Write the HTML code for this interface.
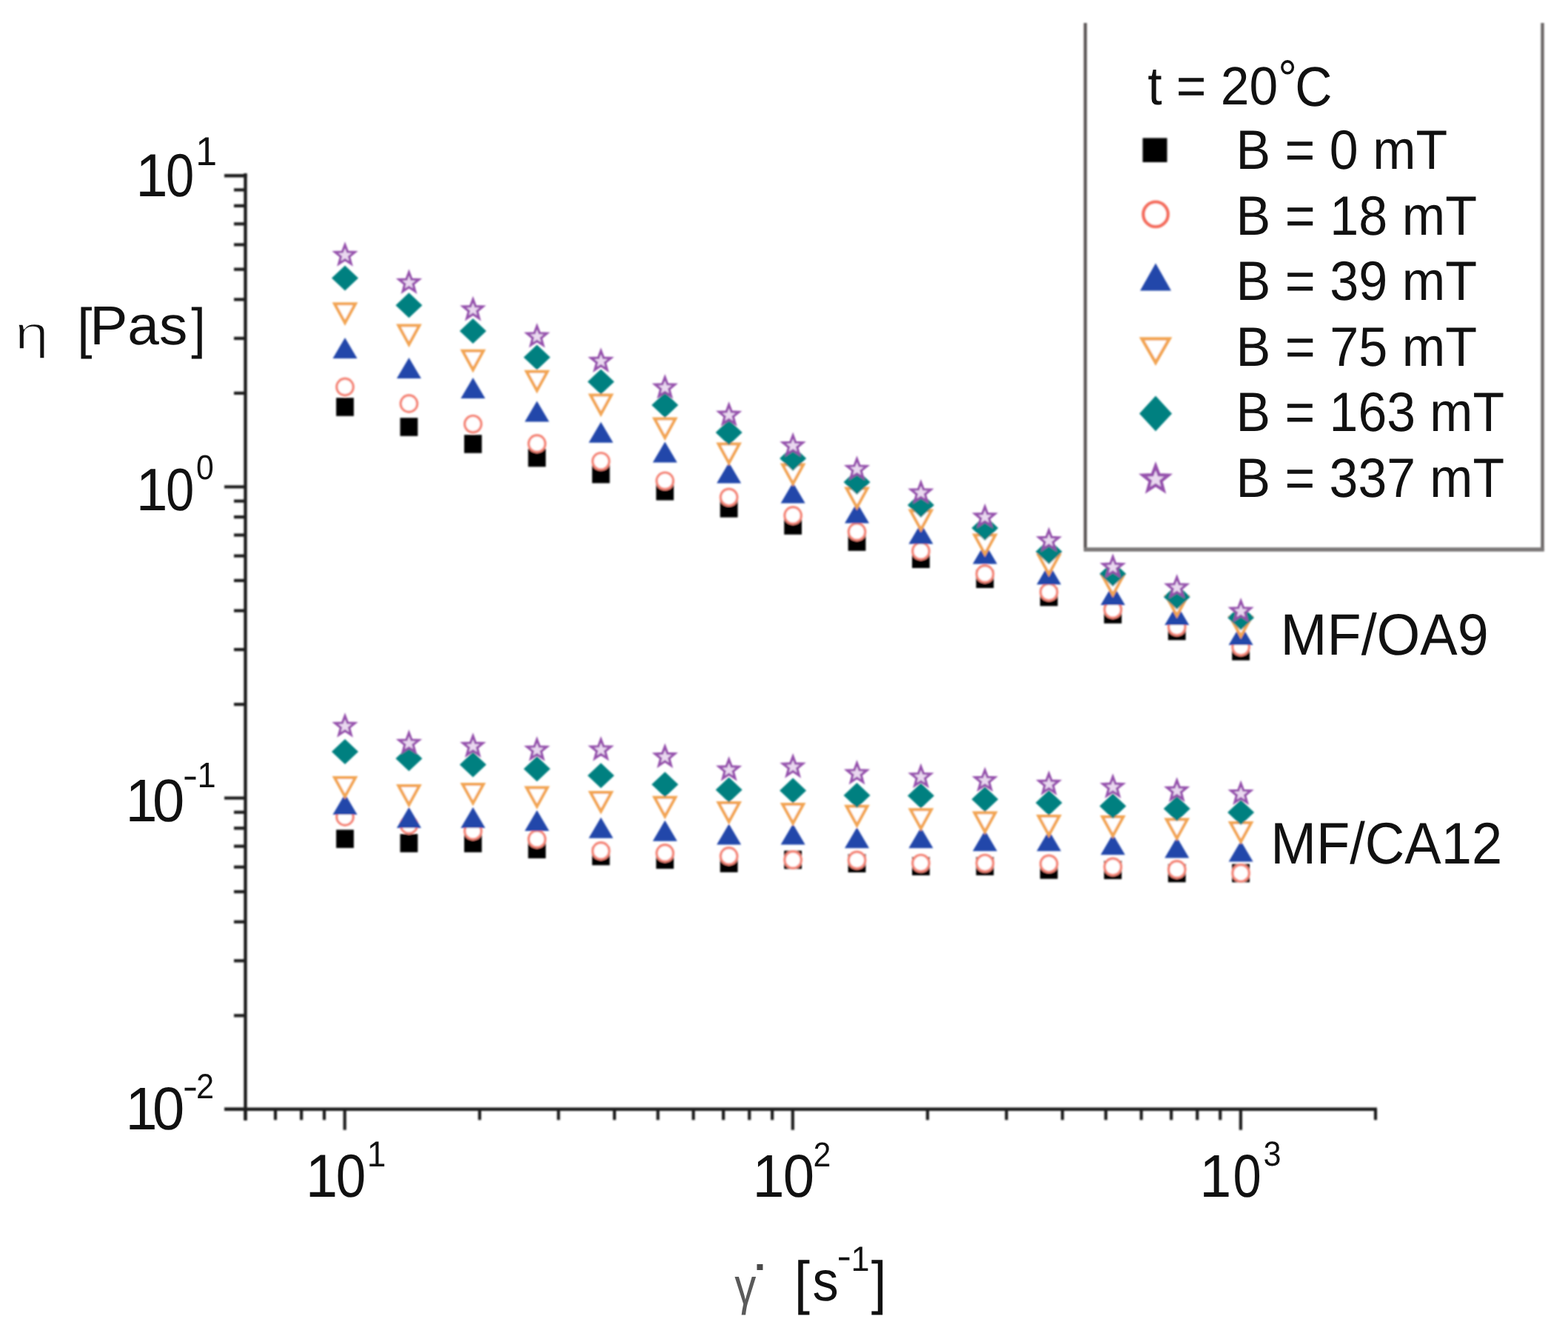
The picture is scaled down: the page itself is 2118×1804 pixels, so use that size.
<!DOCTYPE html>
<html><head><meta charset="utf-8"><title>Viscosity vs shear rate</title>
<style>
html,body{margin:0;padding:0;background:#fff;}
body{width:2118px;height:1804px;overflow:hidden;}
svg{display:block;}
</style></head><body>
<svg width="2118" height="1804" viewBox="0 0 2118 1804" font-family="'Liberation Sans', Arial, sans-serif" fill="#111" style="font-kerning:none;text-rendering:geometricPrecision"><defs><filter id="soft" x="0" y="0" width="2118" height="1804" filterUnits="userSpaceOnUse"><feGaussianBlur stdDeviation="0.8"/></filter></defs><rect width="100%" height="100%" fill="#fff"/><g filter="url(#soft)"><line x1="331.5" y1="234" x2="331.5" y2="1513" stroke="#1e1e1e" stroke-width="4.4"/>
<line x1="303" y1="1497.8" x2="1860.0" y2="1497.8" stroke="#1e1e1e" stroke-width="4.4"/>
<line x1="303" y1="1497.8" x2="331.5" y2="1497.8" stroke="#1e1e1e" stroke-width="4.2"/>
<line x1="316" y1="1371.3" x2="331.5" y2="1371.3" stroke="#1e1e1e" stroke-width="4.2"/>
<line x1="316" y1="1297.3" x2="331.5" y2="1297.3" stroke="#1e1e1e" stroke-width="4.2"/>
<line x1="316" y1="1244.8" x2="331.5" y2="1244.8" stroke="#1e1e1e" stroke-width="4.2"/>
<line x1="316" y1="1204.1" x2="331.5" y2="1204.1" stroke="#1e1e1e" stroke-width="4.2"/>
<line x1="316" y1="1170.8" x2="331.5" y2="1170.8" stroke="#1e1e1e" stroke-width="4.2"/>
<line x1="316" y1="1142.7" x2="331.5" y2="1142.7" stroke="#1e1e1e" stroke-width="4.2"/>
<line x1="316" y1="1118.3" x2="331.5" y2="1118.3" stroke="#1e1e1e" stroke-width="4.2"/>
<line x1="316" y1="1096.8" x2="331.5" y2="1096.8" stroke="#1e1e1e" stroke-width="4.2"/>
<line x1="303" y1="1077.6" x2="331.5" y2="1077.6" stroke="#1e1e1e" stroke-width="4.2"/>
<line x1="316" y1="951.1" x2="331.5" y2="951.1" stroke="#1e1e1e" stroke-width="4.2"/>
<line x1="316" y1="877.1" x2="331.5" y2="877.1" stroke="#1e1e1e" stroke-width="4.2"/>
<line x1="316" y1="824.6" x2="331.5" y2="824.6" stroke="#1e1e1e" stroke-width="4.2"/>
<line x1="316" y1="783.9" x2="331.5" y2="783.9" stroke="#1e1e1e" stroke-width="4.2"/>
<line x1="316" y1="750.6" x2="331.5" y2="750.6" stroke="#1e1e1e" stroke-width="4.2"/>
<line x1="316" y1="722.5" x2="331.5" y2="722.5" stroke="#1e1e1e" stroke-width="4.2"/>
<line x1="316" y1="698.1" x2="331.5" y2="698.1" stroke="#1e1e1e" stroke-width="4.2"/>
<line x1="316" y1="676.6" x2="331.5" y2="676.6" stroke="#1e1e1e" stroke-width="4.2"/>
<line x1="303" y1="657.4" x2="331.5" y2="657.4" stroke="#1e1e1e" stroke-width="4.2"/>
<line x1="316" y1="530.9" x2="331.5" y2="530.9" stroke="#1e1e1e" stroke-width="4.2"/>
<line x1="316" y1="456.9" x2="331.5" y2="456.9" stroke="#1e1e1e" stroke-width="4.2"/>
<line x1="316" y1="404.4" x2="331.5" y2="404.4" stroke="#1e1e1e" stroke-width="4.2"/>
<line x1="316" y1="363.7" x2="331.5" y2="363.7" stroke="#1e1e1e" stroke-width="4.2"/>
<line x1="316" y1="330.4" x2="331.5" y2="330.4" stroke="#1e1e1e" stroke-width="4.2"/>
<line x1="316" y1="302.3" x2="331.5" y2="302.3" stroke="#1e1e1e" stroke-width="4.2"/>
<line x1="316" y1="277.9" x2="331.5" y2="277.9" stroke="#1e1e1e" stroke-width="4.2"/>
<line x1="316" y1="256.4" x2="331.5" y2="256.4" stroke="#1e1e1e" stroke-width="4.2"/>
<line x1="303" y1="237.2" x2="331.5" y2="237.2" stroke="#1e1e1e" stroke-width="4.2"/>
<line x1="303" y1="237.2" x2="333.5" y2="237.2" stroke="#1e1e1e" stroke-width="4.2"/>
<line x1="331.5" y1="1497.8" x2="331.5" y2="1512.3" stroke="#1e1e1e" stroke-width="4.2"/>
<line x1="372.0" y1="1497.8" x2="372.0" y2="1512.3" stroke="#1e1e1e" stroke-width="4.2"/>
<line x1="407.1" y1="1497.8" x2="407.1" y2="1512.3" stroke="#1e1e1e" stroke-width="4.2"/>
<line x1="438.0" y1="1497.8" x2="438.0" y2="1512.3" stroke="#1e1e1e" stroke-width="4.2"/>
<line x1="465.7" y1="1497.8" x2="465.7" y2="1525.8" stroke="#1e1e1e" stroke-width="4.2"/>
<line x1="647.9" y1="1497.8" x2="647.9" y2="1512.3" stroke="#1e1e1e" stroke-width="4.2"/>
<line x1="754.4" y1="1497.8" x2="754.4" y2="1512.3" stroke="#1e1e1e" stroke-width="4.2"/>
<line x1="830.0" y1="1497.8" x2="830.0" y2="1512.3" stroke="#1e1e1e" stroke-width="4.2"/>
<line x1="888.7" y1="1497.8" x2="888.7" y2="1512.3" stroke="#1e1e1e" stroke-width="4.2"/>
<line x1="936.6" y1="1497.8" x2="936.6" y2="1512.3" stroke="#1e1e1e" stroke-width="4.2"/>
<line x1="977.1" y1="1497.8" x2="977.1" y2="1512.3" stroke="#1e1e1e" stroke-width="4.2"/>
<line x1="1012.2" y1="1497.8" x2="1012.2" y2="1512.3" stroke="#1e1e1e" stroke-width="4.2"/>
<line x1="1043.1" y1="1497.8" x2="1043.1" y2="1512.3" stroke="#1e1e1e" stroke-width="4.2"/>
<line x1="1070.8" y1="1497.8" x2="1070.8" y2="1525.8" stroke="#1e1e1e" stroke-width="4.2"/>
<line x1="1252.9" y1="1497.8" x2="1252.9" y2="1512.3" stroke="#1e1e1e" stroke-width="4.2"/>
<line x1="1359.5" y1="1497.8" x2="1359.5" y2="1512.3" stroke="#1e1e1e" stroke-width="4.2"/>
<line x1="1435.1" y1="1497.8" x2="1435.1" y2="1512.3" stroke="#1e1e1e" stroke-width="4.2"/>
<line x1="1493.7" y1="1497.8" x2="1493.7" y2="1512.3" stroke="#1e1e1e" stroke-width="4.2"/>
<line x1="1541.6" y1="1497.8" x2="1541.6" y2="1512.3" stroke="#1e1e1e" stroke-width="4.2"/>
<line x1="1582.1" y1="1497.8" x2="1582.1" y2="1512.3" stroke="#1e1e1e" stroke-width="4.2"/>
<line x1="1617.2" y1="1497.8" x2="1617.2" y2="1512.3" stroke="#1e1e1e" stroke-width="4.2"/>
<line x1="1648.2" y1="1497.8" x2="1648.2" y2="1512.3" stroke="#1e1e1e" stroke-width="4.2"/>
<line x1="1675.9" y1="1497.8" x2="1675.9" y2="1525.8" stroke="#1e1e1e" stroke-width="4.2"/>
<line x1="1858.0" y1="1497.8" x2="1858.0" y2="1512.3" stroke="#1e1e1e" stroke-width="4.2"/>
<line x1="1466" y1="31" x2="1466" y2="744" stroke="#5e5a5a" stroke-width="4.4"/>
<line x1="2083.5" y1="31" x2="2083.5" y2="744" stroke="#6c6868" stroke-width="4.4"/>
<line x1="1464" y1="742" x2="2085.7" y2="742" stroke="#7a7777" stroke-width="5.5"/>
<rect x="454.1" y="537.2" width="23.8" height="24.6" fill="#000000"/>
<rect x="540.5" y="564.2" width="23.8" height="24.6" fill="#000000"/>
<rect x="627.0" y="587.2" width="23.8" height="24.6" fill="#000000"/>
<rect x="713.4" y="605.7" width="23.8" height="24.6" fill="#000000"/>
<rect x="799.8" y="627.8" width="23.8" height="24.6" fill="#000000"/>
<rect x="886.3" y="650.9" width="23.8" height="24.6" fill="#000000"/>
<rect x="972.7" y="674.0" width="23.8" height="24.6" fill="#000000"/>
<rect x="1059.2" y="697.2" width="23.8" height="24.6" fill="#000000"/>
<rect x="1145.6" y="719.2" width="23.8" height="24.6" fill="#000000"/>
<rect x="1232.0" y="742.4" width="23.8" height="24.6" fill="#000000"/>
<rect x="1318.5" y="769.4" width="23.8" height="24.6" fill="#000000"/>
<rect x="1404.9" y="793.7" width="23.8" height="24.6" fill="#000000"/>
<rect x="1491.3" y="817.2" width="23.8" height="24.6" fill="#000000"/>
<rect x="1577.8" y="839.7" width="23.8" height="24.6" fill="#000000"/>
<rect x="1664.2" y="867.0" width="23.8" height="24.6" fill="#000000"/>
<circle cx="466.0" cy="522.5" r="11.2" fill="#fff" stroke="#f5887a" stroke-width="3.4"/>
<circle cx="552.4" cy="545.0" r="11.2" fill="#fff" stroke="#f5887a" stroke-width="3.4"/>
<circle cx="638.9" cy="572.6" r="11.2" fill="#fff" stroke="#f5887a" stroke-width="3.4"/>
<circle cx="725.3" cy="599.0" r="11.2" fill="#fff" stroke="#f5887a" stroke-width="3.4"/>
<circle cx="811.7" cy="622.8" r="11.2" fill="#fff" stroke="#f5887a" stroke-width="3.4"/>
<circle cx="898.2" cy="649.3" r="11.2" fill="#fff" stroke="#f5887a" stroke-width="3.4"/>
<circle cx="984.6" cy="671.4" r="11.2" fill="#fff" stroke="#f5887a" stroke-width="3.4"/>
<circle cx="1071.1" cy="696.0" r="11.2" fill="#fff" stroke="#f5887a" stroke-width="3.4"/>
<circle cx="1157.5" cy="718.0" r="11.2" fill="#fff" stroke="#f5887a" stroke-width="3.4"/>
<circle cx="1243.9" cy="744.0" r="11.2" fill="#fff" stroke="#f5887a" stroke-width="3.4"/>
<circle cx="1330.4" cy="775.0" r="11.2" fill="#fff" stroke="#f5887a" stroke-width="3.4"/>
<circle cx="1416.8" cy="799.5" r="11.2" fill="#fff" stroke="#f5887a" stroke-width="3.4"/>
<circle cx="1503.2" cy="823.0" r="11.2" fill="#fff" stroke="#f5887a" stroke-width="3.4"/>
<circle cx="1589.7" cy="846.5" r="11.2" fill="#fff" stroke="#f5887a" stroke-width="3.4"/>
<circle cx="1676.1" cy="873.5" r="11.2" fill="#fff" stroke="#f5887a" stroke-width="3.4"/>
<polygon points="466.0,456.0 482.5,484.0 449.5,484.0" fill="#2346aa"/>
<polygon points="552.4,483.0 568.9,511.0 535.9,511.0" fill="#2346aa"/>
<polygon points="638.9,510.0 655.4,538.0 622.4,538.0" fill="#2346aa"/>
<polygon points="725.3,541.6 741.8,569.6 708.8,569.6" fill="#2346aa"/>
<polygon points="811.7,569.7 828.2,597.7 795.2,597.7" fill="#2346aa"/>
<polygon points="898.2,596.6 914.7,624.6 881.7,624.6" fill="#2346aa"/>
<polygon points="984.6,624.6 1001.1,652.6 968.1,652.6" fill="#2346aa"/>
<polygon points="1071.1,651.5 1087.6,679.5 1054.6,679.5" fill="#2346aa"/>
<polygon points="1157.5,678.5 1174.0,706.5 1141.0,706.5" fill="#2346aa"/>
<polygon points="1243.9,706.4 1260.4,734.4 1227.4,734.4" fill="#2346aa"/>
<polygon points="1330.4,733.4 1346.9,761.4 1313.9,761.4" fill="#2346aa"/>
<polygon points="1416.8,761.3 1433.3,789.3 1400.3,789.3" fill="#2346aa"/>
<polygon points="1503.2,789.1 1519.7,817.1 1486.7,817.1" fill="#2346aa"/>
<polygon points="1589.7,816.1 1606.2,844.1 1573.2,844.1" fill="#2346aa"/>
<polygon points="1676.1,843.1 1692.6,871.1 1659.6,871.1" fill="#2346aa"/>
<polygon points="452.0,410.3 480.0,410.3 466.0,435.8" fill="#fff" stroke="#f2a452" stroke-width="4.0" stroke-linejoin="miter"/>
<polygon points="538.4,439.5 566.4,439.5 552.4,465.0" fill="#fff" stroke="#f2a452" stroke-width="4.0" stroke-linejoin="miter"/>
<polygon points="624.9,473.8 652.9,473.8 638.9,499.3" fill="#fff" stroke="#f2a452" stroke-width="4.0" stroke-linejoin="miter"/>
<polygon points="711.3,501.8 739.3,501.8 725.3,527.3" fill="#fff" stroke="#f2a452" stroke-width="4.0" stroke-linejoin="miter"/>
<polygon points="797.7,533.5 825.7,533.5 811.7,559.0" fill="#fff" stroke="#f2a452" stroke-width="4.0" stroke-linejoin="miter"/>
<polygon points="884.2,565.5 912.2,565.5 898.2,591.0" fill="#fff" stroke="#f2a452" stroke-width="4.0" stroke-linejoin="miter"/>
<polygon points="970.6,599.5 998.6,599.5 984.6,625.0" fill="#fff" stroke="#f2a452" stroke-width="4.0" stroke-linejoin="miter"/>
<polygon points="1057.1,627.5 1085.1,627.5 1071.1,653.0" fill="#fff" stroke="#f2a452" stroke-width="4.0" stroke-linejoin="miter"/>
<polygon points="1143.5,659.5 1171.5,659.5 1157.5,685.0" fill="#fff" stroke="#f2a452" stroke-width="4.0" stroke-linejoin="miter"/>
<polygon points="1229.9,689.5 1257.9,689.5 1243.9,715.0" fill="#fff" stroke="#f2a452" stroke-width="4.0" stroke-linejoin="miter"/>
<polygon points="1316.4,722.5 1344.4,722.5 1330.4,748.0" fill="#fff" stroke="#f2a452" stroke-width="4.0" stroke-linejoin="miter"/>
<polygon points="1402.8,749.5 1430.8,749.5 1416.8,775.0" fill="#fff" stroke="#f2a452" stroke-width="4.0" stroke-linejoin="miter"/>
<polygon points="1489.2,777.5 1517.2,777.5 1503.2,803.0" fill="#fff" stroke="#f2a452" stroke-width="4.0" stroke-linejoin="miter"/>
<polygon points="1575.7,805.5 1603.7,805.5 1589.7,831.0" fill="#fff" stroke="#f2a452" stroke-width="4.0" stroke-linejoin="miter"/>
<polygon points="1662.1,833.5 1690.1,833.5 1676.1,859.0" fill="#fff" stroke="#f2a452" stroke-width="4.0" stroke-linejoin="miter"/>
<polygon points="466.0,358.6 484.0,375.6 466.0,392.6 448.0,375.6" fill="#008080"/>
<polygon points="552.4,395.2 570.4,412.2 552.4,429.2 534.4,412.2" fill="#008080"/>
<polygon points="638.9,430.0 656.9,447.0 638.9,464.0 620.9,447.0" fill="#008080"/>
<polygon points="725.3,465.5 743.3,482.5 725.3,499.5 707.3,482.5" fill="#008080"/>
<polygon points="811.7,498.4 829.7,515.4 811.7,532.4 793.7,515.4" fill="#008080"/>
<polygon points="898.2,530.0 916.2,547.0 898.2,564.0 880.2,547.0" fill="#008080"/>
<polygon points="984.6,567.0 1002.6,584.0 984.6,601.0 966.6,584.0" fill="#008080"/>
<polygon points="1071.1,602.0 1089.1,619.0 1071.1,636.0 1053.1,619.0" fill="#008080"/>
<polygon points="1157.5,634.0 1175.5,651.0 1157.5,668.0 1139.5,651.0" fill="#008080"/>
<polygon points="1243.9,665.0 1261.9,682.0 1243.9,699.0 1225.9,682.0" fill="#008080"/>
<polygon points="1330.4,696.0 1348.4,713.0 1330.4,730.0 1312.4,713.0" fill="#008080"/>
<polygon points="1416.8,728.0 1434.8,745.0 1416.8,762.0 1398.8,745.0" fill="#008080"/>
<polygon points="1503.2,758.0 1521.2,775.0 1503.2,792.0 1485.2,775.0" fill="#008080"/>
<polygon points="1589.7,789.0 1607.7,806.0 1589.7,823.0 1571.7,806.0" fill="#008080"/>
<polygon points="1676.1,817.0 1694.1,834.0 1676.1,851.0 1658.1,834.0" fill="#008080"/>
<polygon points="466.0,330.7 469.5,340.0 479.3,340.4 471.6,346.6 474.2,356.1 466.0,350.6 457.8,356.1 460.4,346.6 452.7,340.4 462.5,340.0" fill="#ead9f0" stroke="#9450ac" stroke-width="3.2" stroke-linejoin="miter"/>
<polygon points="552.4,367.8 555.9,377.1 565.8,377.5 558.0,383.7 560.7,393.2 552.4,387.7 544.2,393.2 546.8,383.7 539.1,377.5 549.0,377.1" fill="#ead9f0" stroke="#9450ac" stroke-width="3.2" stroke-linejoin="miter"/>
<polygon points="638.9,404.3 642.3,413.6 652.2,414.0 644.5,420.2 647.1,429.7 638.9,424.2 630.6,429.7 633.3,420.2 625.6,414.0 635.4,413.6" fill="#ead9f0" stroke="#9450ac" stroke-width="3.2" stroke-linejoin="miter"/>
<polygon points="725.3,440.5 728.8,449.8 738.6,450.2 730.9,456.4 733.5,465.9 725.3,460.4 717.1,465.9 719.7,456.4 712.0,450.2 721.9,449.8" fill="#ead9f0" stroke="#9450ac" stroke-width="3.2" stroke-linejoin="miter"/>
<polygon points="811.7,473.8 815.2,483.1 825.1,483.5 817.3,489.7 820.0,499.2 811.7,493.7 803.5,499.2 806.2,489.7 798.4,483.5 808.3,483.1" fill="#ead9f0" stroke="#9450ac" stroke-width="3.2" stroke-linejoin="miter"/>
<polygon points="898.2,509.5 901.6,518.8 911.5,519.2 903.8,525.4 906.4,534.9 898.2,529.4 890.0,534.9 892.6,525.4 884.9,519.2 894.7,518.8" fill="#ead9f0" stroke="#9450ac" stroke-width="3.2" stroke-linejoin="miter"/>
<polygon points="984.6,546.6 988.1,555.9 997.9,556.3 990.2,562.5 992.9,572.0 984.6,566.5 976.4,572.0 979.0,562.5 971.3,556.3 981.2,555.9" fill="#ead9f0" stroke="#9450ac" stroke-width="3.2" stroke-linejoin="miter"/>
<polygon points="1071.1,588.0 1074.5,597.3 1084.4,597.7 1076.7,603.9 1079.3,613.4 1071.1,607.9 1062.8,613.4 1065.5,603.9 1057.7,597.7 1067.6,597.3" fill="#ead9f0" stroke="#9450ac" stroke-width="3.2" stroke-linejoin="miter"/>
<polygon points="1157.5,619.7 1161.0,629.0 1170.8,629.4 1163.1,635.6 1165.7,645.1 1157.5,639.6 1149.3,645.1 1151.9,635.6 1144.2,629.4 1154.0,629.0" fill="#ead9f0" stroke="#9450ac" stroke-width="3.2" stroke-linejoin="miter"/>
<polygon points="1243.9,651.5 1247.4,660.8 1257.2,661.2 1249.5,667.4 1252.2,676.9 1243.9,671.4 1235.7,676.9 1238.3,667.4 1230.6,661.2 1240.5,660.8" fill="#ead9f0" stroke="#9450ac" stroke-width="3.2" stroke-linejoin="miter"/>
<polygon points="1330.4,684.3 1333.8,693.6 1343.7,694.0 1336.0,700.2 1338.6,709.7 1330.4,704.2 1322.1,709.7 1324.8,700.2 1317.1,694.0 1326.9,693.6" fill="#ead9f0" stroke="#9450ac" stroke-width="3.2" stroke-linejoin="miter"/>
<polygon points="1416.8,716.1 1420.3,725.4 1430.1,725.8 1422.4,732.0 1425.0,741.5 1416.8,736.0 1408.6,741.5 1411.2,732.0 1403.5,725.8 1413.4,725.4" fill="#ead9f0" stroke="#9450ac" stroke-width="3.2" stroke-linejoin="miter"/>
<polygon points="1503.2,751.9 1506.7,761.2 1516.6,761.6 1508.8,767.8 1511.5,777.3 1503.2,771.8 1495.0,777.3 1497.7,767.8 1489.9,761.6 1499.8,761.2" fill="#ead9f0" stroke="#9450ac" stroke-width="3.2" stroke-linejoin="miter"/>
<polygon points="1589.7,779.5 1593.1,788.8 1603.0,789.2 1595.3,795.4 1597.9,804.9 1589.7,799.4 1581.5,804.9 1584.1,795.4 1576.4,789.2 1586.2,788.8" fill="#ead9f0" stroke="#9450ac" stroke-width="3.2" stroke-linejoin="miter"/>
<polygon points="1676.1,811.5 1679.6,820.8 1689.4,821.2 1681.7,827.4 1684.3,836.9 1676.1,831.4 1667.9,836.9 1670.5,827.4 1662.8,821.2 1672.7,820.8" fill="#ead9f0" stroke="#9450ac" stroke-width="3.2" stroke-linejoin="miter"/>
<rect x="454.1" y="1120.4" width="23.8" height="24.6" fill="#000000"/>
<rect x="540.5" y="1126.2" width="23.8" height="24.6" fill="#000000"/>
<rect x="627.0" y="1126.2" width="23.8" height="24.6" fill="#000000"/>
<rect x="713.4" y="1134.4" width="23.8" height="24.6" fill="#000000"/>
<rect x="799.8" y="1143.7" width="23.8" height="24.6" fill="#000000"/>
<rect x="886.3" y="1148.5" width="23.8" height="24.6" fill="#000000"/>
<rect x="972.7" y="1153.2" width="23.8" height="24.6" fill="#000000"/>
<rect x="1059.2" y="1148.7" width="23.8" height="24.6" fill="#000000"/>
<rect x="1145.6" y="1153.4" width="23.8" height="24.6" fill="#000000"/>
<rect x="1232.0" y="1157.3" width="23.8" height="24.6" fill="#000000"/>
<rect x="1318.5" y="1157.3" width="23.8" height="24.6" fill="#000000"/>
<rect x="1404.9" y="1162.1" width="23.8" height="24.6" fill="#000000"/>
<rect x="1491.3" y="1162.5" width="23.8" height="24.6" fill="#000000"/>
<rect x="1577.8" y="1166.7" width="23.8" height="24.6" fill="#000000"/>
<rect x="1664.2" y="1166.7" width="23.8" height="24.6" fill="#000000"/>
<circle cx="466.0" cy="1103.0" r="11.2" fill="#fff" stroke="#f5887a" stroke-width="3.4"/>
<circle cx="552.4" cy="1114.0" r="11.2" fill="#fff" stroke="#f5887a" stroke-width="3.4"/>
<circle cx="638.9" cy="1122.0" r="11.2" fill="#fff" stroke="#f5887a" stroke-width="3.4"/>
<circle cx="725.3" cy="1133.0" r="11.2" fill="#fff" stroke="#f5887a" stroke-width="3.4"/>
<circle cx="811.7" cy="1149.0" r="11.2" fill="#fff" stroke="#f5887a" stroke-width="3.4"/>
<circle cx="898.2" cy="1152.0" r="11.2" fill="#fff" stroke="#f5887a" stroke-width="3.4"/>
<circle cx="984.6" cy="1156.0" r="11.2" fill="#fff" stroke="#f5887a" stroke-width="3.4"/>
<circle cx="1071.1" cy="1161.0" r="11.2" fill="#fff" stroke="#f5887a" stroke-width="3.4"/>
<circle cx="1157.5" cy="1161.5" r="11.2" fill="#fff" stroke="#f5887a" stroke-width="3.4"/>
<circle cx="1243.9" cy="1165.6" r="11.2" fill="#fff" stroke="#f5887a" stroke-width="3.4"/>
<circle cx="1330.4" cy="1165.6" r="11.2" fill="#fff" stroke="#f5887a" stroke-width="3.4"/>
<circle cx="1416.8" cy="1166.4" r="11.2" fill="#fff" stroke="#f5887a" stroke-width="3.4"/>
<circle cx="1503.2" cy="1170.5" r="11.2" fill="#fff" stroke="#f5887a" stroke-width="3.4"/>
<circle cx="1589.7" cy="1174.0" r="11.2" fill="#fff" stroke="#f5887a" stroke-width="3.4"/>
<circle cx="1676.1" cy="1178.9" r="11.2" fill="#fff" stroke="#f5887a" stroke-width="3.4"/>
<polygon points="466.0,1071.9 482.5,1099.9 449.5,1099.9" fill="#2346aa"/>
<polygon points="552.4,1090.0 568.9,1118.0 535.9,1118.0" fill="#2346aa"/>
<polygon points="638.9,1090.0 655.4,1118.0 622.4,1118.0" fill="#2346aa"/>
<polygon points="725.3,1094.1 741.8,1122.1 708.8,1122.1" fill="#2346aa"/>
<polygon points="811.7,1103.7 828.2,1131.7 795.2,1131.7" fill="#2346aa"/>
<polygon points="898.2,1107.7 914.7,1135.7 881.7,1135.7" fill="#2346aa"/>
<polygon points="984.6,1112.4 1001.1,1140.4 968.1,1140.4" fill="#2346aa"/>
<polygon points="1071.1,1112.4 1087.6,1140.4 1054.6,1140.4" fill="#2346aa"/>
<polygon points="1157.5,1117.3 1174.0,1145.3 1141.0,1145.3" fill="#2346aa"/>
<polygon points="1243.9,1117.3 1260.4,1145.3 1227.4,1145.3" fill="#2346aa"/>
<polygon points="1330.4,1121.3 1346.9,1149.3 1313.9,1149.3" fill="#2346aa"/>
<polygon points="1416.8,1121.3 1433.3,1149.3 1400.3,1149.3" fill="#2346aa"/>
<polygon points="1503.2,1126.3 1519.7,1154.3 1486.7,1154.3" fill="#2346aa"/>
<polygon points="1589.7,1130.6 1606.2,1158.6 1573.2,1158.6" fill="#2346aa"/>
<polygon points="1676.1,1135.4 1692.6,1163.4 1659.6,1163.4" fill="#2346aa"/>
<polygon points="452.0,1049.9 480.0,1049.9 466.0,1075.4" fill="#fff" stroke="#f2a452" stroke-width="4.0" stroke-linejoin="miter"/>
<polygon points="538.4,1061.0 566.4,1061.0 552.4,1086.5" fill="#fff" stroke="#f2a452" stroke-width="4.0" stroke-linejoin="miter"/>
<polygon points="624.9,1058.9 652.9,1058.9 638.9,1084.4" fill="#fff" stroke="#f2a452" stroke-width="4.0" stroke-linejoin="miter"/>
<polygon points="711.3,1063.4 739.3,1063.4 725.3,1088.9" fill="#fff" stroke="#f2a452" stroke-width="4.0" stroke-linejoin="miter"/>
<polygon points="797.7,1070.0 825.7,1070.0 811.7,1095.5" fill="#fff" stroke="#f2a452" stroke-width="4.0" stroke-linejoin="miter"/>
<polygon points="884.2,1076.8 912.2,1076.8 898.2,1102.3" fill="#fff" stroke="#f2a452" stroke-width="4.0" stroke-linejoin="miter"/>
<polygon points="970.6,1084.0 998.6,1084.0 984.6,1109.5" fill="#fff" stroke="#f2a452" stroke-width="4.0" stroke-linejoin="miter"/>
<polygon points="1057.1,1086.0 1085.1,1086.0 1071.1,1111.5" fill="#fff" stroke="#f2a452" stroke-width="4.0" stroke-linejoin="miter"/>
<polygon points="1143.5,1088.8 1171.5,1088.8 1157.5,1114.3" fill="#fff" stroke="#f2a452" stroke-width="4.0" stroke-linejoin="miter"/>
<polygon points="1229.9,1093.2 1257.9,1093.2 1243.9,1118.7" fill="#fff" stroke="#f2a452" stroke-width="4.0" stroke-linejoin="miter"/>
<polygon points="1316.4,1097.5 1344.4,1097.5 1330.4,1123.0" fill="#fff" stroke="#f2a452" stroke-width="4.0" stroke-linejoin="miter"/>
<polygon points="1402.8,1102.0 1430.8,1102.0 1416.8,1127.5" fill="#fff" stroke="#f2a452" stroke-width="4.0" stroke-linejoin="miter"/>
<polygon points="1489.2,1103.0 1517.2,1103.0 1503.2,1128.5" fill="#fff" stroke="#f2a452" stroke-width="4.0" stroke-linejoin="miter"/>
<polygon points="1575.7,1106.4 1603.7,1106.4 1589.7,1131.9" fill="#fff" stroke="#f2a452" stroke-width="4.0" stroke-linejoin="miter"/>
<polygon points="1662.1,1110.9 1690.1,1110.9 1676.1,1136.4" fill="#fff" stroke="#f2a452" stroke-width="4.0" stroke-linejoin="miter"/>
<polygon points="466.0,998.0 484.0,1015.0 466.0,1032.0 448.0,1015.0" fill="#008080"/>
<polygon points="552.4,1007.2 570.4,1024.2 552.4,1041.2 534.4,1024.2" fill="#008080"/>
<polygon points="638.9,1015.5 656.9,1032.5 638.9,1049.5 620.9,1032.5" fill="#008080"/>
<polygon points="725.3,1021.2 743.3,1038.2 725.3,1055.2 707.3,1038.2" fill="#008080"/>
<polygon points="811.7,1030.3 829.7,1047.3 811.7,1064.3 793.7,1047.3" fill="#008080"/>
<polygon points="898.2,1042.2 916.2,1059.2 898.2,1076.2 880.2,1059.2" fill="#008080"/>
<polygon points="984.6,1049.4 1002.6,1066.4 984.6,1083.4 966.6,1066.4" fill="#008080"/>
<polygon points="1071.1,1050.6 1089.1,1067.6 1071.1,1084.6 1053.1,1067.6" fill="#008080"/>
<polygon points="1157.5,1057.0 1175.5,1074.0 1157.5,1091.0 1139.5,1074.0" fill="#008080"/>
<polygon points="1243.9,1057.6 1261.9,1074.6 1243.9,1091.6 1225.9,1074.6" fill="#008080"/>
<polygon points="1330.4,1062.3 1348.4,1079.3 1330.4,1096.3 1312.4,1079.3" fill="#008080"/>
<polygon points="1416.8,1067.1 1434.8,1084.1 1416.8,1101.1 1398.8,1084.1" fill="#008080"/>
<polygon points="1503.2,1071.5 1521.2,1088.5 1503.2,1105.5 1485.2,1088.5" fill="#008080"/>
<polygon points="1589.7,1075.0 1607.7,1092.0 1589.7,1109.0 1571.7,1092.0" fill="#008080"/>
<polygon points="1676.1,1080.0 1694.1,1097.0 1676.1,1114.0 1658.1,1097.0" fill="#008080"/>
<polygon points="466.0,966.7 469.5,976.0 479.3,976.4 471.6,982.6 474.2,992.1 466.0,986.6 457.8,992.1 460.4,982.6 452.7,976.4 462.5,976.0" fill="#ead9f0" stroke="#9450ac" stroke-width="3.2" stroke-linejoin="miter"/>
<polygon points="552.4,989.7 555.9,999.0 565.8,999.4 558.0,1005.6 560.7,1015.1 552.4,1009.6 544.2,1015.1 546.8,1005.6 539.1,999.4 549.0,999.0" fill="#ead9f0" stroke="#9450ac" stroke-width="3.2" stroke-linejoin="miter"/>
<polygon points="638.9,993.8 642.3,1003.1 652.2,1003.5 644.5,1009.7 647.1,1019.2 638.9,1013.7 630.6,1019.2 633.3,1009.7 625.6,1003.5 635.4,1003.1" fill="#ead9f0" stroke="#9450ac" stroke-width="3.2" stroke-linejoin="miter"/>
<polygon points="725.3,998.7 728.8,1008.0 738.6,1008.4 730.9,1014.6 733.5,1024.1 725.3,1018.6 717.1,1024.1 719.7,1014.6 712.0,1008.4 721.9,1008.0" fill="#ead9f0" stroke="#9450ac" stroke-width="3.2" stroke-linejoin="miter"/>
<polygon points="811.7,998.5 815.2,1007.8 825.1,1008.2 817.3,1014.4 820.0,1023.9 811.7,1018.4 803.5,1023.9 806.2,1014.4 798.4,1008.2 808.3,1007.8" fill="#ead9f0" stroke="#9450ac" stroke-width="3.2" stroke-linejoin="miter"/>
<polygon points="898.2,1008.1 901.6,1017.4 911.5,1017.8 903.8,1024.0 906.4,1033.5 898.2,1028.0 890.0,1033.5 892.6,1024.0 884.9,1017.8 894.7,1017.4" fill="#ead9f0" stroke="#9450ac" stroke-width="3.2" stroke-linejoin="miter"/>
<polygon points="984.6,1025.6 988.1,1034.9 997.9,1035.3 990.2,1041.5 992.9,1051.0 984.6,1045.5 976.4,1051.0 979.0,1041.5 971.3,1035.3 981.2,1034.9" fill="#ead9f0" stroke="#9450ac" stroke-width="3.2" stroke-linejoin="miter"/>
<polygon points="1071.1,1021.6 1074.5,1030.9 1084.4,1031.3 1076.7,1037.5 1079.3,1047.0 1071.1,1041.5 1062.8,1047.0 1065.5,1037.5 1057.7,1031.3 1067.6,1030.9" fill="#ead9f0" stroke="#9450ac" stroke-width="3.2" stroke-linejoin="miter"/>
<polygon points="1157.5,1030.5 1161.0,1039.8 1170.8,1040.2 1163.1,1046.4 1165.7,1055.9 1157.5,1050.4 1149.3,1055.9 1151.9,1046.4 1144.2,1040.2 1154.0,1039.8" fill="#ead9f0" stroke="#9450ac" stroke-width="3.2" stroke-linejoin="miter"/>
<polygon points="1243.9,1035.2 1247.4,1044.5 1257.2,1044.9 1249.5,1051.1 1252.2,1060.6 1243.9,1055.1 1235.7,1060.6 1238.3,1051.1 1230.6,1044.9 1240.5,1044.5" fill="#ead9f0" stroke="#9450ac" stroke-width="3.2" stroke-linejoin="miter"/>
<polygon points="1330.4,1040.0 1333.8,1049.3 1343.7,1049.7 1336.0,1055.9 1338.6,1065.4 1330.4,1059.9 1322.1,1065.4 1324.8,1055.9 1317.1,1049.7 1326.9,1049.3" fill="#ead9f0" stroke="#9450ac" stroke-width="3.2" stroke-linejoin="miter"/>
<polygon points="1416.8,1044.8 1420.3,1054.1 1430.1,1054.5 1422.4,1060.7 1425.0,1070.2 1416.8,1064.7 1408.6,1070.2 1411.2,1060.7 1403.5,1054.5 1413.4,1054.1" fill="#ead9f0" stroke="#9450ac" stroke-width="3.2" stroke-linejoin="miter"/>
<polygon points="1503.2,1048.9 1506.7,1058.2 1516.6,1058.6 1508.8,1064.8 1511.5,1074.3 1503.2,1068.8 1495.0,1074.3 1497.7,1064.8 1489.9,1058.6 1499.8,1058.2" fill="#ead9f0" stroke="#9450ac" stroke-width="3.2" stroke-linejoin="miter"/>
<polygon points="1589.7,1053.8 1593.1,1063.1 1603.0,1063.5 1595.3,1069.7 1597.9,1079.2 1589.7,1073.7 1581.5,1079.2 1584.1,1069.7 1576.4,1063.5 1586.2,1063.1" fill="#ead9f0" stroke="#9450ac" stroke-width="3.2" stroke-linejoin="miter"/>
<polygon points="1676.1,1058.0 1679.6,1067.3 1689.4,1067.7 1681.7,1073.9 1684.3,1083.4 1676.1,1077.9 1667.9,1083.4 1670.5,1073.9 1662.8,1067.7 1672.7,1067.3" fill="#ead9f0" stroke="#9450ac" stroke-width="3.2" stroke-linejoin="miter"/>
<rect x="1543.5" y="186.4" width="33" height="32.6" fill="#000"/>
<circle cx="1561" cy="289.4" r="16.6" fill="#fff" stroke="#f47060" stroke-width="4.6"/>
<polygon points="1561,355.5 1582,392.5 1540,392.5" fill="#2346aa"/>
<polygon points="1542.5,457.5 1579.5,457.5 1561,489.5" fill="#fff" stroke="#f2a452" stroke-width="4.4"/>
<polygon points="1561,534.5 1583,558.4 1561,582.3 1539,558.4" fill="#008080"/>
<polygon points="1561.0,629.0 1565.5,641.1 1578.3,641.6 1568.3,649.6 1571.7,662.0 1561.0,654.9 1550.3,662.0 1553.7,649.6 1543.7,641.6 1556.5,641.1" fill="#ead9f0" stroke="#9450ac" stroke-width="4.2" stroke-linejoin="miter"/></g><g><text transform="translate(183.29,265.10) scale(0.9500,1)" font-size="82.12">1</text>
<text transform="translate(224.11,265.10) scale(0.8381,1)" font-size="82.12">0</text>
<text transform="translate(183.66,689.20) scale(0.9500,1)" font-size="80.96">1</text>
<text transform="translate(224.11,689.20) scale(0.8501,1)" font-size="80.96">0</text>
<text transform="translate(169.62,1109.20) scale(0.9500,1)" font-size="81.40">1</text>
<text transform="translate(205.96,1109.20) scale(0.9561,1)" font-size="81.40">0</text>
<text transform="translate(169.57,1524.60) scale(0.9500,1)" font-size="81.54">1</text>
<text transform="translate(205.96,1524.60) scale(0.9544,1)" font-size="81.54">0</text>
<text transform="translate(412.79,1616.20) scale(0.9500,1)" font-size="82.12">1</text>
<text transform="translate(453.86,1616.20) scale(0.8865,1)" font-size="82.12">0</text>
<text transform="translate(1016.47,1615.80) scale(0.9500,1)" font-size="81.54">1</text>
<text transform="translate(1057.63,1615.80) scale(0.9338,1)" font-size="81.54">0</text>
<text transform="translate(1620.27,1615.80) scale(0.9500,1)" font-size="81.54">1</text>
<text transform="translate(1665.61,1615.80) scale(0.8440,1)" font-size="81.54">0</text>
<text transform="translate(264.36,223.40) scale(0.9500,1)" font-size="54.65">1</text>
<text transform="translate(265.11,647.45) scale(0.9200,1)" font-size="46.47">0</text>
<text transform="translate(266.56,1063.30) scale(0.9500,1)" font-size="47.82">1</text>
<text transform="translate(264.95,1483.30) scale(0.9200,1)" font-size="47.12">2</text>
<text transform="translate(495.83,1574.90) scale(0.9500,1)" font-size="48.55">1</text>
<text transform="translate(1098.49,1574.50) scale(0.9200,1)" font-size="46.55">2</text>
<text transform="translate(1706.59,1574.44) scale(0.9200,1)" font-size="47.03">3</text>
<text transform="translate(104.30,468.72) scale(0.9716,1)" font-size="75.10">[</text>
<text transform="translate(121.21,465.40) scale(1.0318,1)" font-size="74.27">Pas</text>
<text transform="translate(258.25,468.72) scale(0.9314,1)" font-size="75.10">]</text>
<text transform="translate(1072.75,1759.18) scale(0.9608,1)" font-size="79.60">[</text>
<text transform="translate(1097.50,1756.15) scale(0.9200,1)" font-size="76.50">s</text>
<text transform="translate(1149.50,1716.10) scale(0.9500,1)" font-size="47.38">1</text>
<text transform="translate(1176.72,1759.18) scale(0.9356,1)" font-size="79.60">]</text>
<text transform="translate(1550.15,141.30) scale(0.9561,1)" font-size="72.75">t = 20</text>
<text transform="translate(1726.13,129.92) scale(0.9200,1)" font-size="70.06">°</text>
<text transform="translate(1749.31,143.26) scale(0.9200,1)" font-size="75.56">C</text>
<text transform="translate(1669.57,228.00) scale(0.9339,1)" font-size="74.86">B = 0 mT</text>
<text transform="translate(1669.55,316.60) scale(0.9369,1)" font-size="74.86">B = 18 mT</text>
<text transform="translate(1669.55,405.20) scale(0.9372,1)" font-size="74.86">B = 39 mT</text>
<text transform="translate(1669.55,493.80) scale(0.9372,1)" font-size="74.86">B = 75 mT</text>
<text transform="translate(1669.58,582.40) scale(0.9317,1)" font-size="74.86">B = 163 mT</text>
<text transform="translate(1669.58,671.00) scale(0.9317,1)" font-size="74.86">B = 337 mT</text>
<text transform="translate(1729.60,884.30) scale(0.9587,1)" font-size="78.78">MF/OA9</text>
<text transform="translate(1716.22,1165.70) scale(0.9356,1)" font-size="79.22">MF/CA12</text>
<text transform="translate(246.77,1064.28) scale(1.2288,1)" font-size="50.00">-</text>
<text transform="translate(246.77,1484.28) scale(1.2288,1)" font-size="50.00">-</text>
<text transform="translate(1130.40,1713.08) scale(1.1715,1)" font-size="50.00">-</text>
<text transform="translate(20.04,470.55) scale(1.3171,1)" font-size="62.54" stroke="#fff" stroke-width="1.6">η</text>
<text transform="translate(992.30,1761.20) scale(0.8310,1)" font-size="70.03" fill="#5a5a5a">γ</text>
<text transform="translate(1015.57,1776.02) scale(0.9556,1)" font-size="95.26" fill="#4a4a4a">˙</text></g></svg>
</body></html>
